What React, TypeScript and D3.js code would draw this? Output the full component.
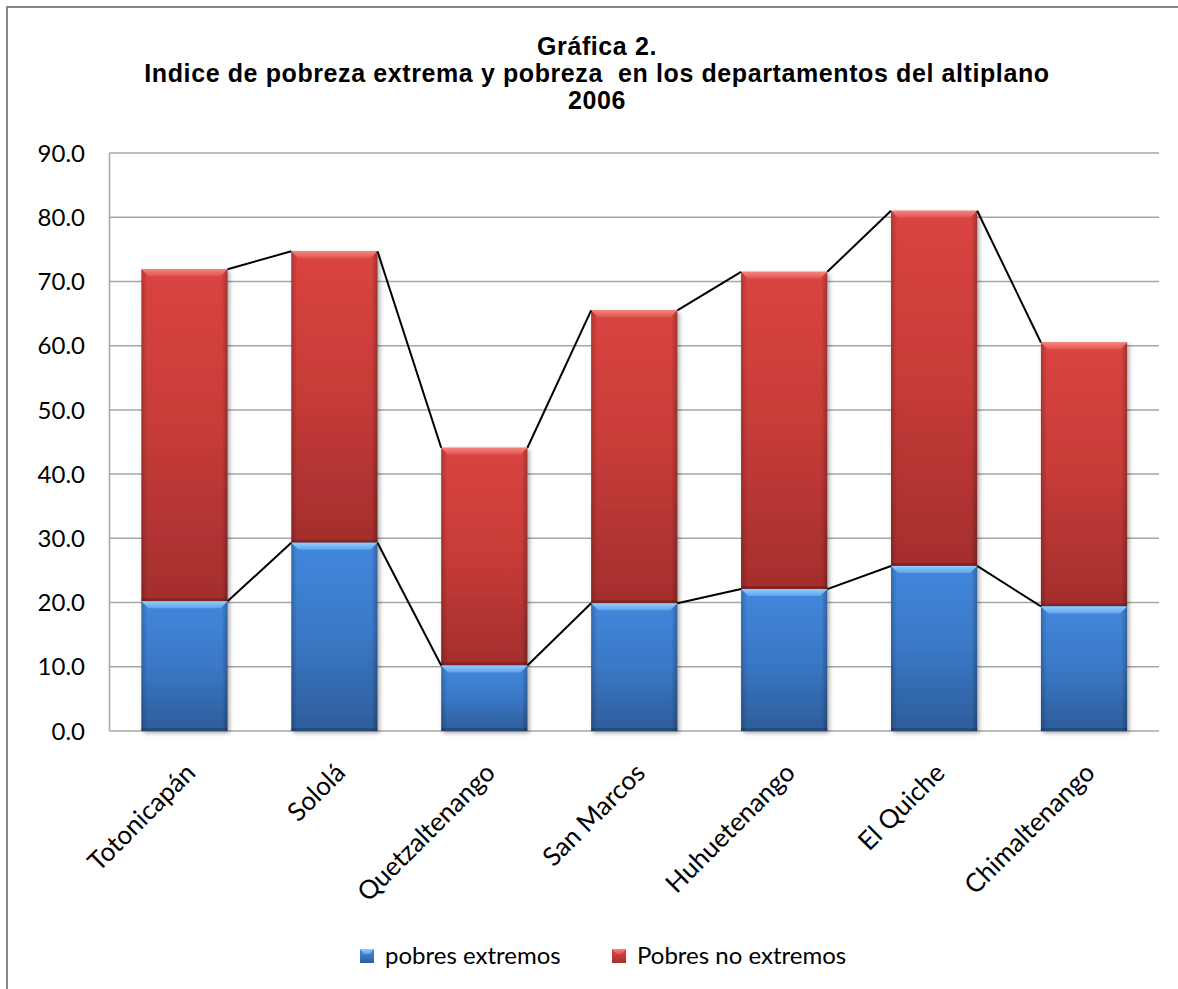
import React from "react";
import * as d3 from "d3";

const categories = ["Totonicapán", "Sololá", "Quetzaltenango", "San Marcos", "Huhuetenango", "El Quiche", "Chimaltenango"];
const pobresExtremos = [20.2, 29.3, 10.2, 19.9, 22.1, 25.7, 19.4];
const pobrezaTotal = [71.9, 74.7, 44.1, 65.5, 71.5, 81.0, 60.5];
const pobresNoExtremos = pobrezaTotal.map((t, i) => +(t - pobresExtremos[i]).toFixed(1));
const yTicks = [0, 10, 20, 30, 40, 50, 60, 70, 80, 90];
const titleLines = ["Gráfica 2.", "Indice de pobreza extrema y pobreza  en los departamentos del altiplano", "2006"];
const legendLabels = ["pobres extremos", "Pobres no extremos"];

const W = 1178, H = 989;
const M = { left: 109.5, right: 1159, top: 153, bottom: 731 };

export default function App() {
  const x = d3.scaleBand<string>().domain(categories).range([M.left, M.right]).paddingInner(0.425).paddingOuter(0.2125);
  const y = d3.scaleLinear().domain([0, 90]).range([M.bottom, M.top]);
  const bw = x.bandwidth();
  const font = "Lato, 'Open Sans', sans-serif";

  const stacks = categories.map((c, i) => ({
    c,
    x0: x(c) as number,
    blueTop: pobresExtremos[i],
    redTop: pobresExtremos[i] + pobresNoExtremos[i],
  }));

  const bevel = (x0: number, yTop: number, fill: string) => {
    const b = 7;
    return (
      <polygon
        points={`${x0},${yTop} ${x0 + bw},${yTop} ${x0 + bw - b},${yTop + b} ${x0 + b},${yTop + b}`}
        fill={fill}
      />
    );
  };

  const seg = (key: string, x0: number, v0: number, v1: number, grad: string, bev: string) => {
    const yTop = y(v1), yBot = y(v0);
    return (
      <g key={key}>
        <rect x={x0} y={yTop} width={bw} height={yBot - yTop} fill={`url(#${grad})`} filter="url(#shadow)" />
        <rect x={x0} y={yTop} width={bw} height={yBot - yTop} fill="url(#edges)" />
        <rect x={x0} y={yBot - 3} width={bw} height={3} fill="rgba(0,0,0,0.18)" />
        {bevel(x0, yTop, `url(#${bev})`)}
      </g>
    );
  };

  const lineSegs = (vals: number[]) =>
    stacks.slice(0, -1).map((s, i) => {
      const n = stacks[i + 1];
      return (
        <line key={i} x1={s.x0 + bw} y1={y(vals[i])} x2={n.x0} y2={y(vals[i + 1])} stroke="#000" strokeWidth={2} />
      );
    });

  return (
    <svg width={W} height={H} style={{ position: "absolute", left: 0, top: 0, background: "#fff" }}>
      <defs>
        <linearGradient id="blueG" x1="0" y1="0" x2="0" y2="1">
          <stop offset="0" stopColor="#4287dc" />
          <stop offset="0.5" stopColor="#3a78c6" />
          <stop offset="1" stopColor="#2d5d9a" />
        </linearGradient>
        <linearGradient id="redG" x1="0" y1="0" x2="0" y2="1">
          <stop offset="0" stopColor="#da4440" />
          <stop offset="0.5" stopColor="#c63b38" />
          <stop offset="1" stopColor="#a32e2c" />
        </linearGradient>
        <linearGradient id="blueBev" x1="0" y1="0" x2="0" y2="1">
          <stop offset="0" stopColor="#95ccff" />
          <stop offset="1" stopColor="#5ea2ec" />
        </linearGradient>
        <linearGradient id="redBev" x1="0" y1="0" x2="0" y2="1">
          <stop offset="0" stopColor="#f5857f" />
          <stop offset="1" stopColor="#e0524e" />
        </linearGradient>
        <linearGradient id="edges" x1="0" y1="0" x2="1" y2="0">
          <stop offset="0" stopColor="#000" stopOpacity="0.2" />
          <stop offset="0.07" stopColor="#000" stopOpacity="0" />
          <stop offset="0.93" stopColor="#000" stopOpacity="0" />
          <stop offset="1" stopColor="#000" stopOpacity="0.25" />
        </linearGradient>
        <filter id="shadow" x="-10%" y="-10%" width="130%" height="130%">
          <feDropShadow dx="2" dy="2" stdDeviation="2" floodColor="#000" floodOpacity="0.35" />
        </filter>
      </defs>

      <rect x={7} y={7} width={W + 20} height={H + 20} fill="none" stroke="#868686" strokeWidth={2} />

      {titleLines.map((t, i) => (
        <text
          key={i}
          x={597}
          y={55 + i * 27}
          textAnchor="middle"
          fontFamily="'Liberation Sans', Arial, sans-serif"
          fontWeight="bold"
          fontSize={25}
          letterSpacing={0.6}
          style={{ whiteSpace: "pre" }}
          fill="#000"
        >
          {t}
        </text>
      ))}

      {yTicks.map((t) => (
        <g key={t}>
          <line x1={M.left} x2={M.right} y1={y(t)} y2={y(t)} stroke="#a6a6a6" strokeWidth={1.5} />
          <text x={85} y={y(t)} dy="0.36em" textAnchor="end" fontFamily={font} fontSize={24} fill="#000">
            {d3.format(".1f")(t)}
          </text>
        </g>
      ))}
      <line x1={M.left} x2={M.left} y1={M.top} y2={M.bottom} stroke="#a6a6a6" strokeWidth={1.5} />

      {stacks.map((s) => (
        <g key={s.c}>
          {seg(s.c + "r", s.x0, s.blueTop, s.redTop, "redG", "redBev")}
          {seg(s.c + "b", s.x0, 0, s.blueTop, "blueG", "blueBev")}
        </g>
      ))}

      {lineSegs(pobrezaTotal)}
      {lineSegs(pobresExtremos)}

      {categories.map((c) => {
        const cx = (x(c) as number) + bw / 2;
        return (
          <text key={c} transform={`translate(${cx + 6},${768}) rotate(-45)`} textAnchor="end" dy="0.35em" fontFamily={font} fontSize={26} fill="#000">
            {c}
          </text>
        );
      })}

      {legendLabels.map((l, i) => {
        const lx = i === 0 ? 360 : 612;
        return (
          <g key={l}>
            <rect x={lx} y={949} width={14} height={14} fill={i === 0 ? "url(#blueG)" : "url(#redG)"} />
            <polygon points={`${lx},949 ${lx + 14},949 ${lx + 10},954 ${lx + 4},954`} fill={i === 0 ? "url(#blueBev)" : "url(#redBev)"} />
            <text x={lx + 25} y={956} dy="0.35em" fontFamily={font} fontSize={24} fill="#000">
              {l}
            </text>
          </g>
        );
      })}
    </svg>
  );
}
